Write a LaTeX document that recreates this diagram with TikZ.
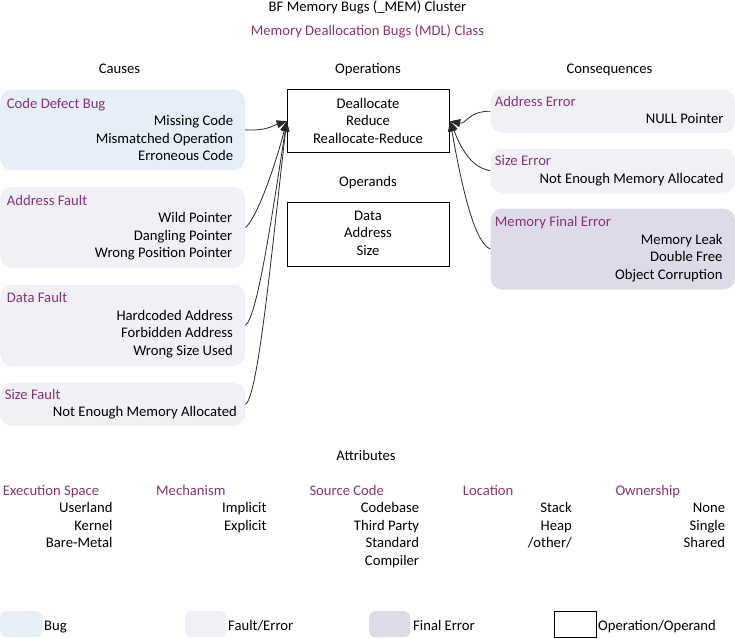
\documentclass[tikz,border=0pt]{standalone}
\usepackage{fontspec}
\setmainfont{Carlito}
\usetikzlibrary{arrows.meta}
\definecolor{purp}{RGB}{134,52,118}
\definecolor{bugfill}{RGB}{230,238,250}
\definecolor{faultfill}{RGB}{242,240,247}
\definecolor{finalfill}{RGB}{222,218,234}
\definecolor{linec}{RGB}{40,40,40}
\newcommand{\fsz}{\fontsize{14.67}{18}\selectfont}
\tikzset{
  lbl/.style={inner sep=0pt, font=\fsz, text=black},
  hd/.style={lbl, text=purp},
  boxbase/.style={inner sep=0pt, anchor=north west, rounded corners=12pt},
  bugbox/.style={boxbase, fill=bugfill},
  faultbox/.style={boxbase, fill=faultfill},
  finalbox/.style={boxbase, fill=finalfill},
  opbox/.style={inner sep=0pt, anchor=north west, draw=black, line width=0.9pt, fill=white},
  conn/.style={draw=linec, line width=0.8pt, -{Triangle[length=10pt,width=8pt]}},
}
\begin{document}
\begin{tikzpicture}[x=1pt,y=-1pt]
\useasboundingbox (0,0) rectangle (735,638);

% titles
\node[lbl, anchor=base] (title) at (367.5,11) {BF Memory Bugs (\_MEM) Cluster};
\node[hd, anchor=base] (subtitle) at (367.5,35) {Memory Deallocation Bugs (MDL) Class};
\node[lbl, anchor=base] (causes) at (119.5,73) {Causes};
\node[lbl, anchor=base] (operations) at (368,73) {Operations};
\node[lbl, anchor=base] (consequences) at (609.5,73) {Consequences};
\node[lbl, anchor=base] (operands) at (368,186.5) {Operands};

% cause boxes
\node[bugbox, minimum width=245, minimum height=80.7] (cdb) at (0,89.3) {};
\node[hd, anchor=base west] (cdbt) at (6.7,108.5) {Code Defect Bug};
\node[lbl, anchor=base east] (cdb1) at (233.3,125.9) {Missing Code};
\node[lbl, anchor=base east] (cdb2) at (233.3,143.4) {Mismatched Operation};
\node[lbl, anchor=base east] (cdb3) at (233.3,160.9) {Erroneous Code};

\node[faultbox, minimum width=245, minimum height=81] (af) at (0,186.7) {};
\node[hd, anchor=base west] (aft) at (6.7,205) {Address Fault};
\node[lbl, anchor=base east] (af1) at (232.5,222.5) {Wild Pointer};
\node[lbl, anchor=base east] (af2) at (232.5,240) {Dangling Pointer};
\node[lbl, anchor=base east] (af3) at (232.5,257.5) {Wrong Position Pointer};

\node[faultbox, minimum width=245, minimum height=81.7] (df) at (0,284.3) {};
\node[hd, anchor=base west] (dft) at (6.7,302.7) {Data Fault};
\node[lbl, anchor=base east] (df1) at (233,320.2) {Hardcoded Address};
\node[lbl, anchor=base east] (df2) at (233,337.7) {Forbidden Address};
\node[lbl, anchor=base east] (df3) at (233,355.2) {Wrong Size Used};

\node[faultbox, minimum width=245, minimum height=43.7] (sf) at (0,382.3) {};
\node[hd, anchor=base west] (sft) at (4.7,399.3) {Size Fault};
\node[lbl, anchor=base east] (sf1) at (237,416.8) {Not Enough Memory Allocated};

% operation boxes
\node[opbox, minimum width=162.6, minimum height=63] (ops) at (286.7,89.3) {};
\node[lbl, anchor=base] (ops1) at (368,108.3) {Deallocate};
\node[lbl, anchor=base] (ops2) at (368,125.8) {Reduce};
\node[lbl, anchor=base] (ops3) at (368,143.3) {Reallocate-Reduce};

\node[opbox, minimum width=162.6, minimum height=63.4] (opd) at (286.7,202.3) {};
\node[lbl, anchor=base] (opd1) at (368,220) {Data};
\node[lbl, anchor=base] (opd2) at (368,237.5) {Address};
\node[lbl, anchor=base] (opd3) at (368,255) {Size};

% consequence boxes
\node[faultbox, minimum width=244.7, minimum height=43.4] (ae) at (490.3,89.3) {};
\node[hd, anchor=base west] (aet) at (494.7,106) {Address Error};
\node[lbl, anchor=base east] (ae1) at (723.7,123.5) {NULL Pointer};

\node[faultbox, minimum width=244.7, minimum height=44.4] (se) at (490.3,148.3) {};
\node[hd, anchor=base west] (set) at (494.7,165.5) {Size Error};
\node[lbl, anchor=base east] (se1) at (723.7,183) {Not Enough Memory Allocated};

\node[finalbox, minimum width=244.7, minimum height=81] (mfe) at (490.3,208.3) {};
\node[hd, anchor=base west] (mfet) at (494.7,226.7) {Memory Final Error};
\node[lbl, anchor=base east] (mfe1) at (722.7,244) {Memory Leak};
\node[lbl, anchor=base east] (mfe2) at (722.7,261.5) {Double Free};
\node[lbl, anchor=base east] (mfe3) at (722.7,279) {Object Corruption};

% connectors
\draw[conn] (cdb.east) .. controls +(22,1) and +(-16,5) .. (ops.west);
\draw[conn] (af.east) .. controls +(10,-7) and +(-13,50) .. (ops.west);
\draw[conn] (df.east) .. controls +(12,-8) and +(-14,90) .. (ops.west);
\draw[conn] (sf.east) .. controls +(13,-7) and +(-14,120) .. (ops.west);
\draw[conn] (ae.west) .. controls +(-22,0) and +(16,3) .. (ops.east);
\draw[conn] (se.west) .. controls +(-18,-3) and +(12,30) .. (ops.east);
\draw[conn] (mfe.west) .. controls +(-14,-6) and +(14,80) .. (ops.east);

% attributes
\node[lbl, anchor=base] (attr) at (366,460) {Attributes};

\node[hd, anchor=base west] (es) at (2.7,495) {Execution Space};
\node[lbl, anchor=base east] (es1) at (112.7,512.5) {Userland};
\node[lbl, anchor=base east] (es2) at (112.7,530) {Kernel};
\node[lbl, anchor=base east] (es3) at (112.7,547.5) {Bare-Metal};

\node[hd, anchor=base west] (me) at (156,495) {Mechanism};
\node[lbl, anchor=base east] (me1) at (266.7,512.5) {Implicit};
\node[lbl, anchor=base east] (me2) at (266.7,530) {Explicit};

\node[hd, anchor=base west] (sc) at (309.3,495) {Source Code};
\node[lbl, anchor=base east] (sc1) at (419.3,512.5) {Codebase};
\node[lbl, anchor=base east] (sc2) at (419.3,530) {Third Party};
\node[lbl, anchor=base east] (sc3) at (419.3,547.5) {Standard};
\node[lbl, anchor=base east] (sc4) at (419.3,565) {Compiler};

\node[hd, anchor=base west] (lo) at (462.7,495) {Location};
\node[lbl, anchor=base east] (lo1) at (572,512.5) {Stack};
\node[lbl, anchor=base east] (lo2) at (572,530) {Heap};
\node[lbl, anchor=base east] (lo3) at (572,547.5) {/other/};

\node[hd, anchor=base west] (ow) at (615.3,495) {Ownership};
\node[lbl, anchor=base east] (ow1) at (725.3,512.5) {None};
\node[lbl, anchor=base east] (ow2) at (725.3,530) {Single};
\node[lbl, anchor=base east] (ow3) at (725.3,547.5) {Shared};

% legend
\node[boxbase, rounded corners=6pt, fill=bugfill, minimum width=42, minimum height=26] (lg1) at (0,611) {};
\node[lbl, anchor=base west] (lg1t) at (44,630) {Bug};
\node[boxbase, rounded corners=6pt, fill=faultfill, minimum width=41, minimum height=26] (lg2) at (185,611) {};
\node[lbl, anchor=base west] (lg2t) at (228,630) {Fault/Error};
\node[boxbase, rounded corners=6pt, fill=finalfill, minimum width=41, minimum height=26] (lg3) at (369,611) {};
\node[lbl, anchor=base west] (lg3t) at (413,630) {Final Error};
\node[opbox, minimum width=42, minimum height=26] (lg4) at (554,611) {};
\node[lbl, anchor=base west] (lg4t) at (598,630) {Operation/Operand};
\end{tikzpicture}
\end{document}
